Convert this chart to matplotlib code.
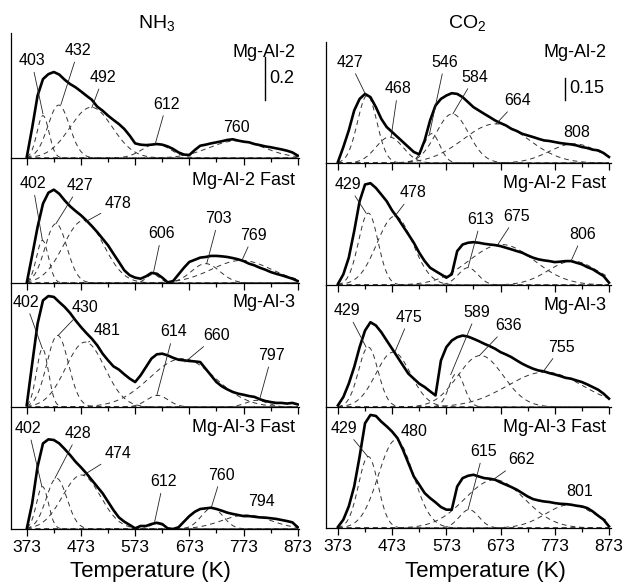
import numpy as np
import matplotlib.pyplot as plt

plt.rcParams['font.family'] = 'Liberation Sans'
plt.rcParams['mathtext.default'] = 'regular'

# measured TPD traces, read every 10 K from 373 to 873 K
temps = np.arange(373, 874, 10)

nh3_mgal2 = [0.003, 0.14, 0.29, 0.367, 0.39, 0.40, 0.388, 0.364, 0.344, 0.329, 0.31,
             0.29, 0.271, 0.239, 0.22, 0.197, 0.177, 0.158, 0.135, 0.104, 0.068,
             0.062, 0.06, 0.062, 0.065, 0.062, 0.054, 0.042, 0.026, 0.016, 0.014,
             0.037, 0.057, 0.062, 0.068, 0.073, 0.078, 0.084, 0.087, 0.081, 0.076,
             0.073, 0.065, 0.06, 0.054, 0.05, 0.045, 0.04, 0.034, 0.026, 0.011]
nh3_mgal2_fast = [0.0, 0.128, 0.26, 0.369, 0.42, 0.434, 0.415, 0.384, 0.357, 0.335, 0.315,
                  0.291, 0.265, 0.237, 0.206, 0.175, 0.136, 0.098, 0.059, 0.036, 0.025,
                  0.02, 0.031, 0.047, 0.043, 0.025, 0.003, 0.009, 0.04, 0.071, 0.098,
                  0.108, 0.118, 0.121, 0.126, 0.126, 0.124, 0.121, 0.116, 0.11, 0.102,
                  0.09, 0.082, 0.071, 0.062, 0.051, 0.043, 0.036, 0.028, 0.02, 0.009]
nh3_mgal3 = [0.008, 0.2, 0.387, 0.496, 0.516, 0.512, 0.488, 0.465, 0.437, 0.403, 0.372,
             0.344, 0.318, 0.287, 0.248, 0.217, 0.189, 0.174, 0.152, 0.132, 0.116,
             0.147, 0.186, 0.225, 0.245, 0.248, 0.24, 0.229, 0.22, 0.217, 0.214,
             0.212, 0.209, 0.178, 0.147, 0.116, 0.096, 0.082, 0.07, 0.062, 0.057,
             0.051, 0.047, 0.036, 0.028, 0.023, 0.019, 0.019, 0.016, 0.019, 0.012]
nh3_mgal3_fast = [0.0, 0.119, 0.29, 0.398, 0.417, 0.414, 0.398, 0.372, 0.344, 0.313, 0.287,
                  0.259, 0.228, 0.197, 0.166, 0.127, 0.088, 0.054, 0.034, 0.019, 0.003,
                  0.014, 0.014, 0.023, 0.029, 0.023, 0.003, 0.0, 0.008, 0.034, 0.06,
                  0.08, 0.093, 0.096, 0.099, 0.093, 0.085, 0.076, 0.07, 0.065, 0.06,
                  0.06, 0.057, 0.054, 0.053, 0.05, 0.047, 0.042, 0.037, 0.031, 0.008]
co2_mgal2 = [0.007, 0.109, 0.222, 0.358, 0.437, 0.471, 0.449, 0.381, 0.301, 0.245, 0.211,
             0.177, 0.143, 0.109, 0.075, 0.059, 0.154, 0.29, 0.392, 0.437, 0.46,
             0.476, 0.471, 0.449, 0.415, 0.381, 0.358, 0.335, 0.313, 0.29, 0.272,
             0.256, 0.233, 0.218, 0.199, 0.188, 0.177, 0.165, 0.154, 0.15, 0.143,
             0.136, 0.131, 0.127, 0.12, 0.109, 0.102, 0.091, 0.086, 0.068, 0.041]
co2_mgal2_fast = [0.007, 0.073, 0.186, 0.367, 0.571, 0.685, 0.694, 0.662, 0.617, 0.571, 0.508,
                  0.458, 0.401, 0.345, 0.288, 0.22, 0.163, 0.118, 0.095, 0.073, 0.05,
                  0.073, 0.231, 0.276, 0.288, 0.292, 0.288, 0.281, 0.276, 0.272, 0.265,
                  0.254, 0.243, 0.231, 0.22, 0.202, 0.186, 0.175, 0.168, 0.163, 0.156,
                  0.159, 0.163, 0.163, 0.152, 0.141, 0.122, 0.107, 0.084, 0.061, 0.016]
co2_mgal3 = [0.011, 0.068, 0.159, 0.272, 0.408, 0.521, 0.578, 0.556, 0.51, 0.453, 0.397,
             0.34, 0.283, 0.227, 0.193, 0.159, 0.136, 0.107, 0.079, 0.317, 0.408,
             0.453, 0.476, 0.487, 0.48, 0.465, 0.449, 0.431, 0.415, 0.397, 0.374,
             0.358, 0.34, 0.317, 0.295, 0.277, 0.261, 0.249, 0.243, 0.231, 0.222,
             0.211, 0.199, 0.193, 0.181, 0.17, 0.154, 0.136, 0.118, 0.091, 0.057]
co2_mgal3_fast = [0.007, 0.057, 0.147, 0.283, 0.487, 0.714, 0.771, 0.764, 0.725, 0.693, 0.657,
                  0.612, 0.533, 0.442, 0.351, 0.295, 0.238, 0.204, 0.175, 0.143, 0.125,
                  0.125, 0.283, 0.34, 0.356, 0.363, 0.351, 0.34, 0.336, 0.329, 0.311,
                  0.295, 0.279, 0.261, 0.238, 0.215, 0.197, 0.188, 0.181, 0.177, 0.17,
                  0.165, 0.163, 0.159, 0.152, 0.147, 0.136, 0.113, 0.084, 0.057, 0.011]

# fitted gaussian components: centre (K), height, width (K)
nh3_mgal2_c = [403, 432, 492, 612, 760]
nh3_mgal2_h = [0.197, 0.246, 0.236, 0.065, 0.08]
nh3_mgal2_w = [11, 20, 39, 26, 50]
nh3_mgal2_fast_c = [402, 427, 478, 606, 703, 769]
nh3_mgal2_fast_h = [0.198, 0.276, 0.291, 0.04, 0.09, 0.105]
nh3_mgal2_fast_w = [11, 20, 37, 12, 26, 55]
nh3_mgal3_c = [402, 430, 481, 614, 660, 797]
nh3_mgal3_h = [0.271, 0.333, 0.302, 0.054, 0.225, 0.031]
nh3_mgal3_w = [11, 20, 36, 20, 60, 20]
nh3_mgal3_fast_c = [402, 428, 474, 612, 715, 778]
nh3_mgal3_fast_h = [0.197, 0.236, 0.251, 0.025, 0.098, 0.065]
nh3_mgal3_fast_w = [11, 19, 35, 12, 20, 45]
co2_mgal2_c = [427, 468, 546, 584, 664, 808]
co2_mgal2_h = [0.46, 0.177, 0.2, 0.335, 0.267, 0.131]
co2_mgal2_w = [18, 25, 15, 30, 60, 45]
co2_mgal2_fast_c = [429, 478, 613, 675, 806]
co2_mgal2_fast_h = [0.49, 0.469, 0.118, 0.276, 0.163]
co2_mgal2_fast_w = [18, 33, 18, 60, 45]
co2_mgal3_c = [429, 475, 592, 636, 755]
co2_mgal3_h = [0.408, 0.374, 0.23, 0.351, 0.238]
co2_mgal3_w = [18, 32, 14, 42, 70]
co2_mgal3_fast_c = [429, 480, 615, 662, 801]
co2_mgal3_fast_h = [0.487, 0.601, 0.125, 0.329, 0.159]
co2_mgal3_fast_w = [18, 32, 18, 55, 45]

# peak labels
nh3_mgal2_lbl = ['403', '432', '492', '612', '760']
nh3_mgal2_fast_lbl = ['402', '427', '478', '606', '703', '769']
nh3_mgal3_lbl = ['402', '430', '481', '614', '660', '797']
nh3_mgal3_fast_lbl = ['402', '428', '474', '612', '760', '794']
co2_mgal2_lbl = ['427', '468', '546', '584', '664', '808']
co2_mgal2_fast_lbl = ['429', '478', '613', '675', '806']
co2_mgal3_lbl = ['429', '475', '589', '636', '755']
co2_mgal3_fast_lbl = ['429', '480', '615', '662', '801']

sample_names = ['Mg-Al-2', 'Mg-Al-2 Fast', 'Mg-Al-3', 'Mg-Al-3 Fast']

# where the label text sits and where its leader line points (None = no line)
nh3_txt = [[(382, 0.453), (468, 0.50), (514, 0.375), (631, 0.251), (760, 0.143)],
           [(384, 0.462), (471, 0.454), (542, 0.369), (622, 0.229), (727, 0.299), (791, 0.222)],
           [(371, 0.488), (481, 0.465), (521, 0.357), (644, 0.349), (724, 0.333), (825, 0.24)],
           [(376, 0.468), (468, 0.445), (542, 0.352), (625, 0.22), (732, 0.251), (806, 0.127)]]
nh3_tip = [[(403, 0.205), (436, 0.248), (493, 0.233), (610, 0.065), None],
           [(402, 0.198), (427, 0.276), (481, 0.284), (607, 0.051), (705, 0.09), (770, 0.105)],
           [(402, 0.271), (431, 0.333), (487, 0.302), (613, 0.054), (665, 0.209), (803, 0.039)],
           [(401, 0.197), (425, 0.236), (478, 0.251), (609, 0.034), (714, 0.104), None]]
co2_txt = [[(395, 0.687), (484, 0.505), (570, 0.687), (625, 0.585), (705, 0.426), (813, 0.211)],
           [(391, 0.685), (511, 0.628), (637, 0.447), (702, 0.469), (825, 0.345)],
           [(390, 0.657), (505, 0.612), (629, 0.646), (687, 0.555), (785, 0.408)],
           [(385, 0.68), (514, 0.657), (641, 0.521), (711, 0.465), (819, 0.249)]]
co2_tip = [[(425, 0.46), (471, 0.177), (542, 0.2), (585, 0.335), (665, 0.267), None],
           [(425, 0.49), (478, 0.469), (613, 0.118), (668, 0.276), (803, 0.163)],
           [(425, 0.408), (478, 0.374), (581, 0.22), (634, 0.351), (751, 0.238)],
           [(428, 0.487), (484, 0.601), (613, 0.125), (659, 0.329), None]]
nh3_name_y = [0.493, 0.479, 0.484, 0.47]
co2_name_y = [0.755, 0.694, 0.694, 0.687]

nh3 = [(nh3_mgal2, nh3_mgal2_c, nh3_mgal2_h, nh3_mgal2_w, nh3_mgal2_lbl),
       (nh3_mgal2_fast, nh3_mgal2_fast_c, nh3_mgal2_fast_h, nh3_mgal2_fast_w, nh3_mgal2_fast_lbl),
       (nh3_mgal3, nh3_mgal3_c, nh3_mgal3_h, nh3_mgal3_w, nh3_mgal3_lbl),
       (nh3_mgal3_fast, nh3_mgal3_fast_c, nh3_mgal3_fast_h, nh3_mgal3_fast_w, nh3_mgal3_fast_lbl)]
co2 = [(co2_mgal2, co2_mgal2_c, co2_mgal2_h, co2_mgal2_w, co2_mgal2_lbl),
       (co2_mgal2_fast, co2_mgal2_fast_c, co2_mgal2_fast_h, co2_mgal2_fast_w, co2_mgal2_fast_lbl),
       (co2_mgal3, co2_mgal3_c, co2_mgal3_h, co2_mgal3_w, co2_mgal3_lbl),
       (co2_mgal3_fast, co2_mgal3_fast_c, co2_mgal3_fast_h, co2_mgal3_fast_w, co2_mgal3_fast_lbl)]

W, H = 624, 583
fig = plt.figure(figsize=(W / 100, H / 100), dpi=100)
tgrid = np.linspace(373, 873, 501)


def add_panel(x0, x1, y0, y1):
    return fig.add_axes([x0 / W, 1 - y1 / H, (x1 - x0) / W, (y1 - y0) / H])


def draw_column(data, txt, tip, name_y, x0, x1, xmin, edges, per_px):
    axes = []
    for i, (trace, cen, hgt, wid, lbl) in enumerate(data):
        ax = add_panel(x0, x1, edges[i], edges[i + 1])
        for c, h, w in zip(cen, hgt, wid):
            g = h * np.exp(-0.5 * ((tgrid - c) / w) ** 2)
            ax.plot(tgrid, g, color='#333333', lw=0.7, ls=(0, (5, 4)), zorder=2)
        ax.plot(temps, trace, color='black', lw=1.9, zorder=3, solid_joinstyle='round')
        for s, (tx, ty), p in zip(lbl, txt[i], tip[i]):
            if p is None:
                ax.text(tx, ty, s, ha='center', va='center', fontsize=11.5)
            else:
                ax.annotate(s, xy=p, xytext=(tx, ty), ha='center', va='center',
                            fontsize=11.5,
                            arrowprops=dict(arrowstyle='-', lw=0.6, color='#222222',
                                            shrinkA=1, shrinkB=0))
        ax.text(868, name_y[i], sample_names[i], ha='right', va='center', fontsize=13)
        ax.set_xlim(xmin, 876)
        ax.set_ylim(0, (edges[i + 1] - edges[i]) * per_px)
        for sp in ['top', 'right']:
            ax.spines[sp].set_visible(False)
        ax.spines['left'].set_linewidth(0.9)
        ax.spines['bottom'].set_linewidth(0.9)
        ax.set_yticks([])
        ax.set_xticks(np.arange(373, 874, 100))
        ax.set_xticks(np.arange(423, 874, 100), minor=True)
        ax.tick_params(axis='x', which='major', length=5, width=0.9, direction='out',
                       labelsize=12.5, pad=3)
        ax.tick_params(axis='x', which='minor', length=3, width=0.9, direction='out')
        if i < 3:
            ax.tick_params(axis='x', labelbottom=False)
        ax.patch.set_visible(False)
        axes.append(ax)
    return axes


left = draw_column(nh3, nh3_txt, nh3_tip, nh3_name_y, 11, 299.4, 344,
                   [33, 158, 283, 407, 529], 0.2 / 43)
right = draw_column(co2, co2_txt, co2_tip, co2_name_y, 326, 610.6, 351,
                    [42, 163, 285, 407, 528], 0.15 / 22)

# scale bars
left[0].plot([813, 813], [0.27, 0.47], color='black', lw=1.0, clip_on=False)
left[0].text(821, 0.37, '0.2', ha='left', va='center', fontsize=13)
right[0].plot([792, 792], [0.43, 0.58], color='black', lw=1.0, clip_on=False)
right[0].text(800, 0.51, '0.15', ha='left', va='center', fontsize=13)

fig.text(157 / W, 1 - 28 / H, 'NH$_3$', ha='center', va='baseline', fontsize=14)
fig.text(467 / W, 1 - 28 / H, 'CO$_2$', ha='center', va='baseline', fontsize=14)
fig.text(150 / W, 1 - 577 / H, 'Temperature (K)', ha='center', va='baseline', fontsize=16)
fig.text(485 / W, 1 - 577 / H, 'Temperature (K)', ha='center', va='baseline', fontsize=16)

fig.savefig('out.png', dpi=100, facecolor='white')
